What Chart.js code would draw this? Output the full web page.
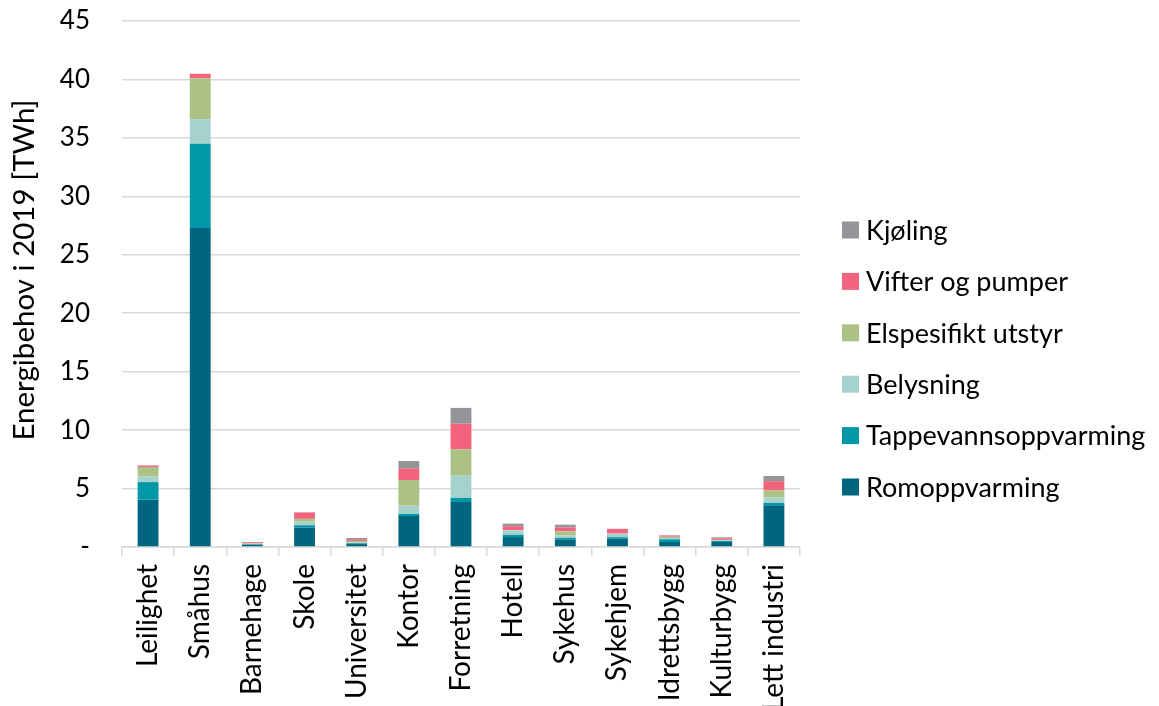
<!DOCTYPE html>
<html>
<head>
<meta charset="utf-8">
<script src="https://cdn.jsdelivr.net/npm/chart.js@4/dist/chart.umd.min.js"></script>
<style>
  html, body { margin: 0; padding: 0; background: #fff; }
  #wrap { width: 1159px; height: 706px; position: relative; }
</style>
</head>
<body>
<div id="wrap"><canvas id="c"></canvas></div>
<script>
// Building categories
const categories = ['Leilighet', 'Småhus', 'Barnehage', 'Skole', 'Universitet', 'Kontor',
  'Forretning', 'Hotell', 'Sykehus', 'Sykehjem', 'Idrettsbygg', 'Kulturbygg', 'Lett industri'];

// Energy demand per end use, TWh (2019)
const romoppvarming        = [4.05, 27.3, 0.20, 1.66, 0.25, 2.65, 3.85, 0.85, 0.65, 0.70, 0.43, 0.43, 3.57];
const tappevannsoppvarming = [1.50, 7.20, 0.03, 0.20, 0.07, 0.18, 0.35, 0.20, 0.12, 0.14, 0.23, 0.08, 0.20];
const belysning            = [0.50, 2.10, 0.05, 0.30, 0.08, 0.70, 1.90, 0.37, 0.23, 0.29, 0.11, 0.06, 0.46];
const elspesifiktUtstyr    = [0.80, 3.50, 0.05, 0.25, 0.12, 2.20, 2.25, 0.02, 0.34, 0.02, 0.11, 0.04, 0.60];
const vifterOgPumper       = [0.12, 0.37, 0.08, 0.55, 0.15, 1.00, 2.20, 0.34, 0.34, 0.40, 0.11, 0.13, 0.80];
const kjoling              = [0.02, 0.02, 0.02, 0.01, 0.10, 0.63, 1.35, 0.22, 0.23, 0.01, 0.01, 0.09, 0.45];

const yTicks = [0, 5, 10, 15, 20, 25, 30, 35, 40, 45];
const yTitle = 'Energibehov i 2019 [TWh]';

const FONT = 'Lato, "Open Sans", sans-serif';
const GRID = '#d9d9d9';

const series = [
  { label: 'Romoppvarming', data: romoppvarming, color: '#00667f' },
  { label: 'Tappevannsoppvarming', data: tappevannsoppvarming, color: '#0097a7' },
  { label: 'Belysning', data: belysning, color: '#a5d2cd' },
  { label: 'Elspesifikt utstyr', data: elspesifiktUtstyr, color: '#abc284' },
  { label: 'Vifter og pumper', data: vifterOgPumper, color: '#f2637d' },
  { label: 'Kjøling', data: kjoling, color: '#939598' }
];

// Legend on the right, listed top-down in reverse stacking order,
// plus the rotated value-axis title on the left
const sideLegend = {
  id: 'sideLegend',
  afterDraw(chart) {
    const ctx = chart.ctx;
    const ds = chart.data.datasets.slice().reverse();
    const x = 842, y0 = 230, step = 51.4, box = 17;
    ctx.save();
    ctx.font = '27px ' + FONT;
    ctx.textBaseline = 'middle';
    ctx.textAlign = 'left';
    ds.forEach((d, i) => {
      const cy = y0 + i * step;
      ctx.fillStyle = d.backgroundColor;
      ctx.fillRect(x, cy - box / 2, box, box);
      ctx.fillStyle = '#000';
      ctx.fillText(d.label, x + box + 7, cy + 1);
    });
    ctx.restore();

    ctx.save();
    ctx.translate(24, 270);
    ctx.rotate(-Math.PI / 2);
    ctx.font = '29.5px ' + FONT;
    ctx.fillStyle = '#000';
    ctx.textAlign = 'center';
    ctx.textBaseline = 'middle';
    ctx.fillText(yTitle, 0, 0);
    ctx.restore();
  }
};

new Chart(document.getElementById('c'), {
  type: 'bar',
  data: {
    labels: categories,
    datasets: series.map(s => ({
      label: s.label,
      data: s.data,
      backgroundColor: s.color,
      borderWidth: 0,
      barPercentage: 0.4,
      categoryPercentage: 1.0
    }))
  },
  options: {
    responsive: true,
    maintainAspectRatio: false,
    animation: false,
    layout: { padding: { left: 0, right: 359, top: 0, bottom: 0 } },
    plugins: {
      legend: { display: false },
      tooltip: { enabled: false }
    },
    scales: {
      x: {
        stacked: true,
        grid: {
          display: true,
          offset: true,
          drawOnChartArea: false,
          drawTicks: true,
          tickLength: 9,
          color: GRID,
          lineWidth: 1.5
        },
        border: { display: true, color: GRID, width: 1.5 },
        ticks: {
          color: '#000',
          font: { family: FONT, size: 28 },
          minRotation: 90,
          maxRotation: 90,
          padding: 8,
          autoSkip: false
        },
        afterFit(scale) { scale.height = 159; }
      },
      y: {
        stacked: true,
        min: 0,
        max: 45,
        afterBuildTicks(scale) { scale.ticks = yTicks.map(v => ({ value: v })); },
        grid: { color: GRID, lineWidth: 1.5, drawTicks: false },
        border: { display: false },
        ticks: {
          color: '#000',
          font: { family: FONT, size: 26 },
          padding: 32,
          callback: v => (v === 0 ? '-' : String(v))
        },
        title: { display: false },
        afterFit(scale) {
          scale.width = 122;
          scale.paddingTop = 21;
        }
      }
    }
  },
  plugins: [sideLegend]
});
</script>
</body>
</html>
